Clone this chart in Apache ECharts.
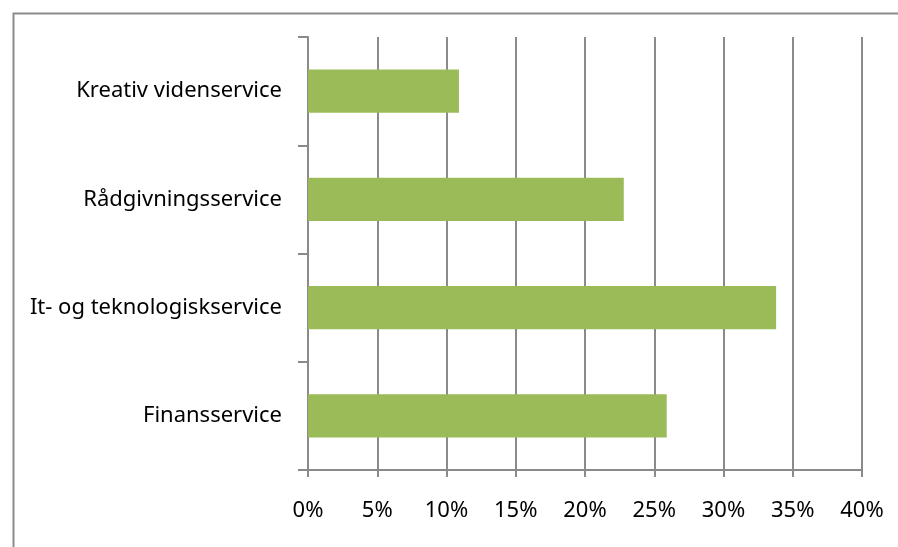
<!DOCTYPE html>
<html>
<head>
<meta charset="utf-8">
<script src="https://cdn.jsdelivr.net/npm/echarts@6/dist/echarts.min.js"></script>
<style>html,body{margin:0;padding:0;background:#fff}#c{width:898px;height:547px}</style>
</head>
<body>
<div id="c"></div>
<script>
const categories = ['Finansservice', 'It- og teknologiskservice', 'Rådgivningsservice', 'Kreativ videnservice'];
const values = [25.9, 33.8, 22.8, 10.9];
const xTicks = { min: 0, max: 40, interval: 5 };

const chart = echarts.init(document.getElementById('c'), null, { renderer: 'canvas' });
const gray = '#8a8a8a';
const font = '"Noto Sans", sans-serif';
chart.setOption({
  animation: false,
  backgroundColor: '#fff',
  graphic: [{
    type: 'rect', left: 11, top: 11,
    shape: { width: 920, height: 600 },
    style: { fill: 'none', stroke: '#8c8c8c', lineWidth: 2 }
  }],
  grid: { left: 308, right: 36, top: 37, bottom: 77 },
  xAxis: {
    type: 'value', min: xTicks.min, max: xTicks.max, interval: xTicks.interval,
    axisLine: { show: true, lineStyle: { color: gray, width: 2 } },
    axisTick: { show: true, length: 7, lineStyle: { color: gray, width: 2 } },
    splitLine: { show: true, lineStyle: { color: gray, width: 2 } },
    axisLabel: { formatter: v => v + '%', color: '#000', fontSize: 22, fontFamily: font, margin: 30 }
  },
  yAxis: {
    type: 'category', data: categories,
    axisLine: { show: true, lineStyle: { color: gray, width: 2 } },
    axisTick: { show: true, length: 10, lineStyle: { color: gray, width: 2 } },
    axisLabel: { color: '#000', fontSize: 22, fontFamily: font, margin: 26 }
  },
  series: [{
    type: 'bar', data: values, barWidth: '40%',
    itemStyle: { color: '#9bbb59' }
  }]
});
</script>
</body>
</html>
